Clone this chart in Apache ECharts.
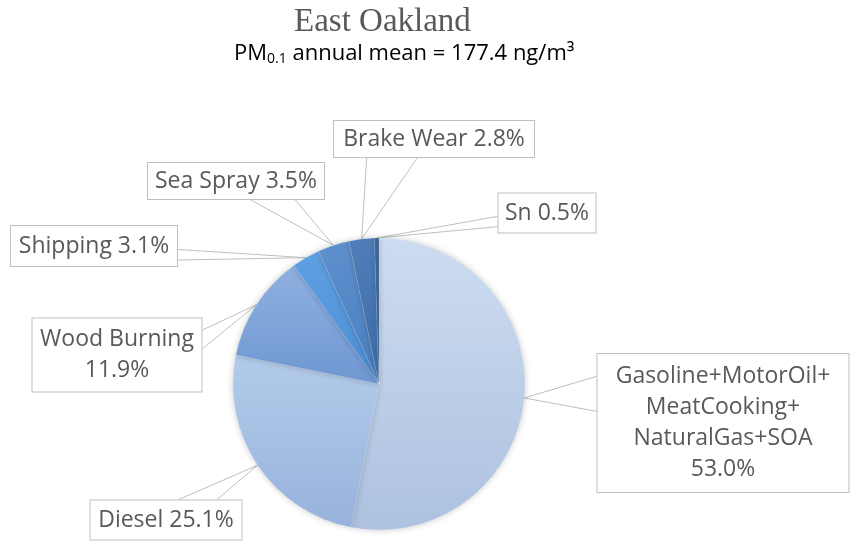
<!DOCTYPE html>
<html lang="en">
<head>
    <meta charset="utf-8">
    <title>East Oakland</title>
    <style>
        html, body { margin: 0; padding: 0; background: #ffffff; }
        #chart { width: 850px; height: 542px; }
    </style>
</head>
<body>
    <div id="chart"></div>
    <script src="https://cdn.jsdelivr.net/npm/echarts@6/dist/echarts.min.js"></script>
    <script>
        // source shares, clockwise from 12 o'clock
        var sources = ["Gasoline+MotorOil+MeatCooking+NaturalGas+SOA", "Diesel", "Wood Burning",
            "Shipping", "Sea Spray", "Brake Wear", "Sn"];
        var labelText = ["Gasoline+MotorOil+\nMeatCooking+\nNaturalGas+SOA\n", "Diesel ", "Wood Burning\n",
            "Shipping ", "Sea Spray ", "Brake Wear ", "Sn "];
        var shares = [53.0, 25.1, 11.9, 3.1, 3.5, 2.8, 0.5];

        var topColors = ["#cddcf0", "#b3cbea", "#8fb1e0", "#5fa0e2", "#5e90cd", "#4f7eba", "#3d689c"];
        var bottomColors = ["#adc2e0", "#97b2dc", "#6e97d1", "#4d8dd4", "#497ec0", "#3d6aa5", "#325a8c"];

        // callout boxes: centre and outer size (px)
        var labelPos = [[723, 423], [166, 520], [117, 355], [94, 246], [236, 181], [434, 139], [547, 213]];
        var labelBox = [[253, 140], [153, 41], [171, 75], [168, 42], [178, 38], [202, 38], [99, 41]];
        var LH = 31;

        var data = shares.map(function (v, i) {
            var lines = labelText[i].split("\n").length;
            var padV = Math.max(0, (labelBox[i][1] - 2 - lines * LH) / 2);
            return {
                name: sources[i],
                value: v,
                itemStyle: {
                    color: new echarts.graphic.LinearGradient(0, 0, 0, 1, [
                        { offset: 0, color: topColors[i] },
                        { offset: 1, color: bottomColors[i] }
                    ])
                },
                label: { width: labelBox[i][0] - 2, padding: [padV, 0] }
            };
        });

        // Excel style wedge callout: two lines from the box edge to the slice
        function wedge(anchor, cx, cy, w, h) {
            var l = cx - w / 2, t = cy - h / 2;
            var dx = (anchor[0] - cx) / w, dy = (anchor[1] - cy) / h;
            if (Math.abs(dx) > Math.abs(dy)) {
                var ex = dx < 0 ? l : l + w;
                var a = dy < 0 ? 2 : 7;
                return [[ex, t + h * a / 12], anchor, [ex, t + h * (a + 3) / 12]];
            }
            var ey = dy < 0 ? t : t + h;
            var b = dx < 0 ? 2 : 7;
            return [[l + w * b / 12, ey], anchor, [l + w * (b + 3) / 12, ey]];
        }

        var chart = echarts.init(document.getElementById("chart"), null, { renderer: "canvas" });
        chart.setOption({
            animation: false,
            title: [{
                text: "East Oakland",
                left: 289,
                top: 1,
                textStyle: {
                    fontFamily: "Liberation Serif",
                    fontSize: 33,
                    fontWeight: "normal",
                    color: "#595959"
                }
            }, {
                text: "{t|PM}{s|0.1}{t| annual mean = 177.4 ng/m³}",
                left: 229,
                top: 36,
                textStyle: {
                    fontWeight: "normal",
                    rich: {
                        t: { fontFamily: "Open Sans", fontSize: 22, fontWeight: "normal", color: "#000000" },
                        s: { fontFamily: "Open Sans", fontSize: 14, fontWeight: "normal", color: "#000000", padding: [11, 0, 0, 0] }
                    }
                }
            }],
            series: [{
                type: "pie",
                center: [379, 384],
                radius: 146,
                startAngle: 90,
                clockwise: true,
                data: data,
                itemStyle: {
                    borderColor: "rgba(255,255,255,0.25)",
                    borderWidth: 0.5,
                    shadowBlur: 6,
                    shadowColor: "rgba(0,0,0,0.22)"
                },
                label: {
                    show: true,
                    formatter: function (p) {
                        return labelText[p.dataIndex] + p.value.toFixed(1) + "%";
                    },
                    fontFamily: "Open Sans",
                    fontSize: 23,
                    lineHeight: LH,
                    color: "#595959",
                    align: "center",
                    backgroundColor: "#ffffff",
                    borderColor: "#bfbfbf",
                    borderWidth: 1
                },
                labelLine: {
                    show: true,
                    lineStyle: { color: "#bfbfbf", width: 1 }
                },
                labelLayout: function (params) {
                    var i = params.dataIndex;
                    var p = labelPos[i];
                    var out = { x: p[0], y: p[1], align: "center", verticalAlign: "middle" };
                    if (params.labelLinePoints) {
                        out.labelLinePoints = wedge(params.labelLinePoints[0], p[0], p[1], labelBox[i][0], labelBox[i][1]);
                    }
                    return out;
                },
                emphasis: { disabled: true }
            }]
        });
    </script>
</body>
</html>
